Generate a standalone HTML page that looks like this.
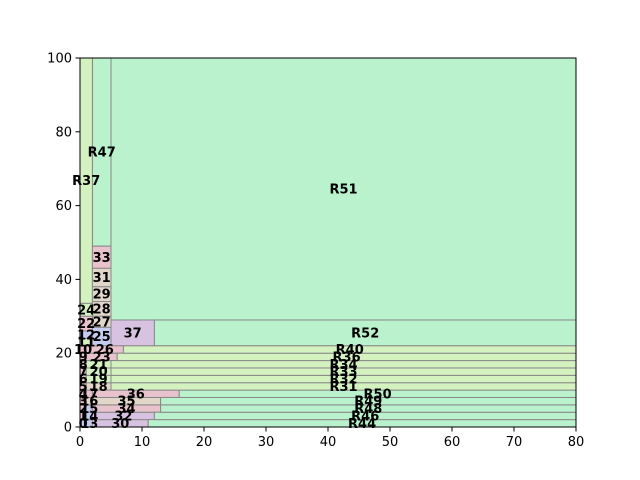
<!DOCTYPE html>
<html><head><meta charset="utf-8"><style>
html,body{margin:0;padding:0;background:#fff;}
svg{display:block;font-family:"DejaVu Sans","Liberation Sans",sans-serif;}
</style></head><body>
<svg id="chart" width="640" height="480" viewBox="0 0 640 480" xmlns="http://www.w3.org/2000/svg">
<rect x="0" y="0" width="640" height="480" fill="#fff"/>
<g id="cells"></g>
<g id="axes"></g>
</svg>
<script>
const labels = ["R51","R47","R37","33","31","29","28","27","25","37","R52","24","22","12","11",
"0","1","2","3","4","5","6","7","8","9","10",
"13","14","15","16","17","18","19","20","21","23","26",
"30","32","34","35","36",
"R44","R46","R48","R49","R50","R31","R32","R33","R34","R36","R40"];
const cellX0 = [5,2,0,2,2,2,2,2,2,5,12,0,0,0,0, 0,0,0,0,0,0,0,0,0,0,0, 1,1,1,1,1,1,1,1,1,1,1, 2,2,2,2,2, 11,12,13,13,16,5,5,5,5,6,7];
const cellX1 = [80,5,2,5,5,5,5,5,5,12,80,2,2,2,2, 1,1,1,1,1,1,1,1,1,1,1, 2,2,2,2,2,5,5,5,5,6,7, 11,12,13,13,16, 80,80,80,80,80,80,80,80,80,80,80];
const cellY0 = [29,49,33.5,43,38,34,30,27,22,22,22,30,26,24,22, 0,2,4,6,8,10,12,14,16,18,20, 0,2,4,6,8,10,12,14,16,18,20, 0,2,4,6,8, 0,2,4,6,8,10,12,14,16,18,20];
const cellY1 = [100,100,100,49,43,38,34,30,27,29,29,33.5,30,26,24, 2,4,6,8,10,12,14,16,18,20,22, 2,4,6,8,10,12,14,16,18,20,22, 2,4,6,8,10, 2,4,6,8,10,12,14,16,18,20,22];
const G="#b9f2cd",Y="#d4f2c0",P="#e8c2cc",L="#d8c2e2",B="#c6cbf2",T="#e2d6c8";
const cellColors = [G,G,Y,P,T,T,T,T,B,L,G,Y,P,B,Y, B,P,P,P,P,P,P,P,P,P,P, B,B,B,T,P,T,Y,Y,Y,P,P, L,L,P,T,P, G,G,G,G,G,Y,Y,Y,Y,Y,Y];
const xTicks = [0,10,20,30,40,50,60,70,80];
const yTicks = [0,20,40,60,80,100];
const xMin=0,xMax=80,yMin=0,yMax=100;
const PL=80,PR=576,PT=58,PB=427;
function sx(v){return PL+(v-xMin)/(xMax-xMin)*(PR-PL);}
function sy(v){return PB-(v-yMin)/(yMax-yMin)*(PB-PT);}
const NS="http://www.w3.org/2000/svg";
const cg=document.getElementById('cells');
const tg=[];
for(let i=0;i<labels.length;i++){
  const r=document.createElementNS(NS,'rect');
  const x0=sx(cellX0[i]),x1=sx(cellX1[i]),y0=sy(cellY1[i]),y1=sy(cellY0[i]);
  r.setAttribute('x',x0);r.setAttribute('y',y0);
  r.setAttribute('width',x1-x0);r.setAttribute('height',y1-y0);
  r.setAttribute('fill',cellColors[i]);r.setAttribute('stroke','#888');r.setAttribute('stroke-width','1');
  
  
  cg.appendChild(r);
  const t=document.createElementNS(NS,'text');
  t.setAttribute('x',(x0+x1)/2);t.setAttribute('y',(y0+y1)/2+4.5);
  t.setAttribute('text-anchor','middle');t.setAttribute('font-size','13');t.setAttribute('font-weight','bold');
  t.textContent=labels[i];
  
  
  tg.push(t);
}
tg.forEach(t=>cg.appendChild(t));
const ag=document.getElementById('axes');
const frame=document.createElementNS(NS,'rect');
frame.setAttribute('x',PL);frame.setAttribute('y',PT);frame.setAttribute('width',PR-PL);frame.setAttribute('height',PB-PT);
frame.setAttribute('fill','none');frame.setAttribute('stroke','#000');frame.setAttribute('stroke-width','1');


ag.appendChild(frame);
xTicks.forEach(v=>{
  const l=document.createElementNS(NS,'line');
  l.setAttribute('x1',sx(v));l.setAttribute('x2',sx(v));l.setAttribute('y1',PB);l.setAttribute('y2',PB+4.5);l.setAttribute('stroke','#000');
  
  
  ag.appendChild(l);
  const t=document.createElementNS(NS,'text');
  t.setAttribute('x',sx(v));t.setAttribute('y',PB+19);t.setAttribute('text-anchor','middle');t.setAttribute('font-size','13');
  t.textContent=v;
  
  
  ag.appendChild(t);
});
yTicks.forEach(v=>{
  const l=document.createElementNS(NS,'line');
  l.setAttribute('x1',PL-4.5);l.setAttribute('x2',PL);l.setAttribute('y1',sy(v));l.setAttribute('y2',sy(v));l.setAttribute('stroke','#000');
  
  
  ag.appendChild(l);
  const t=document.createElementNS(NS,'text');
  t.setAttribute('x',PL-8);t.setAttribute('y',sy(v)+4.5);t.setAttribute('text-anchor','end');t.setAttribute('font-size','13');
  t.textContent=v;
  
  
  ag.appendChild(t);
});
</script>
</body></html>
